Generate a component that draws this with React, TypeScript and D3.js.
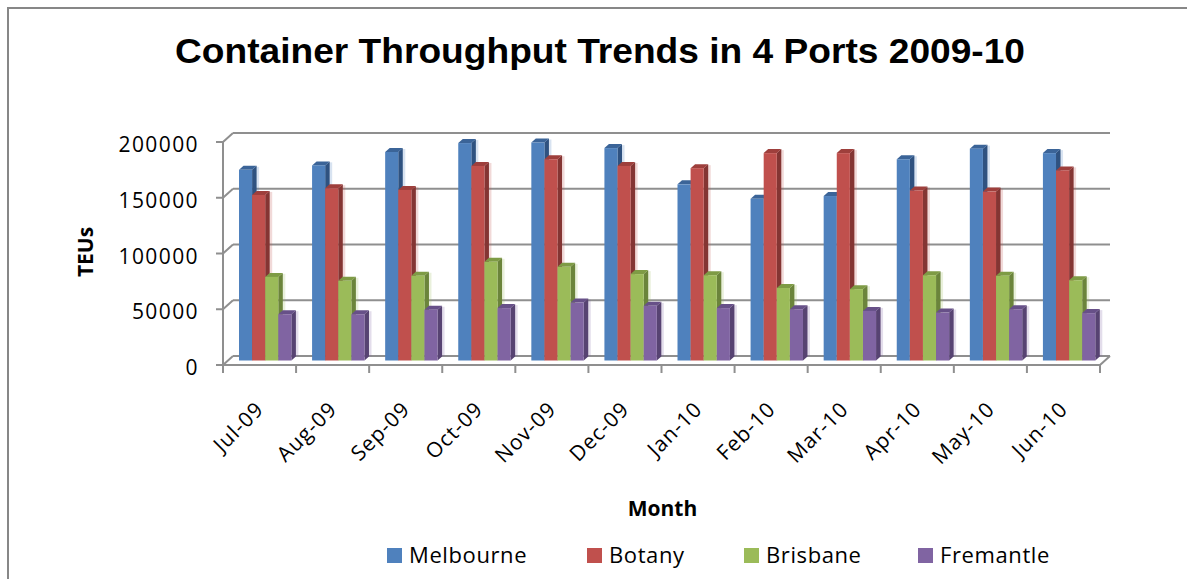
import { useEffect, useRef } from "react"
import * as d3 from "d3"

const months = ["Jul-09", "Aug-09", "Sep-09", "Oct-09", "Nov-09", "Dec-09", "Jan-10", "Feb-10", "Mar-10", "Apr-10", "May-10", "Jun-10"]
const melbourne = [171000, 175000, 187000, 195000, 195500, 190500, 158000, 145000, 147500, 180500, 190000, 186000]
const botany = [148500, 154500, 153000, 174500, 180500, 174500, 172500, 186000, 186000, 152500, 151500, 170500]
const brisbane = [75000, 71500, 76000, 88500, 84000, 77500, 76500, 65000, 64000, 76500, 76000, 72000]
const fremantle = [41500, 41500, 45500, 47000, 52000, 49000, 47000, 46000, 44500, 43000, 46000, 42500]
const yTicks = [0, 50000, 100000, 150000, 200000]

const series = [
    { name: "Melbourne", values: melbourne, color: "#4F81BD", side: "#2F5280", top: "#3B6498" },
    { name: "Botany", values: botany, color: "#C0504D", side: "#843533", top: "#9E3F3C" },
    { name: "Brisbane", values: brisbane, color: "#9BBB59", side: "#6B843B", top: "#7E9B45" },
    { name: "Fremantle", values: fremantle, color: "#8064A2", side: "#574372", top: "#675088" },
]

export default function App() {
    const svgRef = useRef(null)
    const width = 1187, height = 579

    useEffect(() => {
        const svg = d3.select(svgRef.current)
        svg.selectAll("*").remove()

        // outer frame (runs off the right and bottom edges)
        svg.append("rect")
            .attr("x", 8).attr("y", 8)
            .attr("width", 1300).attr("height", 700)
            .attr("fill", "white")
            .attr("stroke", "#878787").attr("stroke-width", 2)

        // title
        svg.append("text")
            .attr("x", 175).attr("y", 63)
            .attr("textLength", 850)
            .attr("lengthAdjust", "spacingAndGlyphs")
            .style("font-family", "'Liberation Sans', Arial, sans-serif")
            .style("font-weight", "bold")
            .style("font-size", "35px")
            .text("Container Throughput Trends in 4 Ports 2009-10")

        const left = 223, right = 1100, floor = 365
        const depth = { dx: 10, dy: -9 }

        const x = d3.scaleBand().domain(months).range([left, right]).padding(0)
        const y = d3.scaleLinear().domain([0, 200000]).range([floor, 142])
        // bars stand half way into the floor
        const yBar = d3.scaleLinear().domain([0, 200000]).range([floor + depth.dy / 2, 142 + depth.dy / 2])

        const gridColor = "#8f8f8f"
        const grid = svg.append("g")
        yTicks.forEach(v => {
            // side wall
            grid.append("line")
                .attr("x1", left).attr("y1", y(v))
                .attr("x2", left + depth.dx).attr("y2", y(v) + depth.dy)
                .attr("stroke", gridColor).attr("stroke-width", 2)
            // back wall
            grid.append("line")
                .attr("x1", left + depth.dx).attr("y1", y(v) + depth.dy)
                .attr("x2", right + depth.dx).attr("y2", y(v) + depth.dy)
                .attr("stroke", gridColor).attr("stroke-width", 2)
        })
        // floor right edge
        grid.append("line")
            .attr("x1", right).attr("y1", floor)
            .attr("x2", right + depth.dx).attr("y2", floor + depth.dy)
            .attr("stroke", gridColor).attr("stroke-width", 2)

        // value axis
        grid.append("line")
            .attr("x1", left).attr("y1", y(200000))
            .attr("x2", left).attr("y2", floor)
            .attr("stroke", gridColor).attr("stroke-width", 2)
        yTicks.forEach(v => {
            grid.append("line")
                .attr("x1", left - 7).attr("y1", y(v))
                .attr("x2", left).attr("y2", y(v))
                .attr("stroke", gridColor).attr("stroke-width", 2)
            svg.append("text")
                .attr("x", 199).attr("y", y(v) + 10)
                .attr("text-anchor", "end")
                .style("font-family", "'Open Sans', sans-serif")
                .style("font-size", "21px")
                .style("letter-spacing", "1.4px")
                .text(v)
        })

        // category axis
        grid.append("line")
            .attr("x1", left).attr("y1", floor)
            .attr("x2", right).attr("y2", floor)
            .attr("stroke", gridColor).attr("stroke-width", 2)
        months.concat(["end"]).forEach((m, i) => {
            const tx = left + i * x.bandwidth()
            grid.append("line")
                .attr("x1", tx).attr("y1", floor)
                .attr("x2", tx).attr("y2", floor + 8)
                .attr("stroke", gridColor).attr("stroke-width", 2)
        })

        // bars
        const barW = 13.1, sdx = 4.5, sdy = -4
        const base = yBar(0)
        const bars = svg.append("g")
        months.forEach((m, i) => {
            series.forEach((s, j) => {
                const bx = x(m) + 16 + j * barW
                const top = yBar(s.values[i])
                // soft halo
                bars.append("rect")
                    .attr("x", bx + barW).attr("y", top + sdy + 1)
                    .attr("width", sdx + 2.5).attr("height", base - top - 1)
                    .attr("fill", s.color).attr("opacity", 0.22)
                bars.append("polygon")
                    .attr("points", [[bx + barW, top], [bx + barW + sdx, top + sdy], [bx + barW + sdx, base + sdy], [bx + barW, base]].join(" "))
                    .attr("fill", s.side)
                bars.append("polygon")
                    .attr("points", [[bx, top], [bx + sdx, top + sdy], [bx + barW + sdx, top + sdy], [bx + barW, top]].join(" "))
                    .attr("fill", s.top)
                bars.append("rect")
                    .attr("x", bx).attr("y", top)
                    .attr("width", barW).attr("height", base - top)
                    .attr("fill", s.color)
            })
        })

        // month labels
        months.forEach(m => {
            const cx = x(m) + x.bandwidth() / 2 + 5.5
            svg.append("text")
                .attr("transform", `translate(${cx},410.5) rotate(-45)`)
                .attr("text-anchor", "end")
                .style("font-family", "'Open Sans', sans-serif")
                .style("font-size", "21px")
                .style("letter-spacing", "1px")
                .text(m)
        })

        // axis titles
        svg.append("text")
            .attr("transform", "translate(93,252) rotate(-90)")
            .attr("text-anchor", "middle")
            .style("font-family", "'Open Sans', sans-serif")
            .style("font-weight", "bold")
            .style("font-size", "21px")
            .text("TEUs")
        svg.append("text")
            .attr("x", 662.5).attr("y", 516)
            .attr("text-anchor", "middle")
            .style("font-family", "'Open Sans', sans-serif")
            .style("font-weight", "bold")
            .style("font-size", "21px")
            .text("Month")

        // legend
        const legendX = [387, 587, 744, 918]
        series.forEach((s, j) => {
            svg.append("rect")
                .attr("x", legendX[j]).attr("y", 548)
                .attr("width", 15).attr("height", 15)
                .attr("fill", s.color)
            svg.append("text")
                .attr("x", legendX[j] + 22).attr("y", 563)
                .style("font-family", "'Open Sans', sans-serif")
                .style("font-size", "22px")
                .style("letter-spacing", "0.6px")
                .text(s.name)
        })
    }, [])

    return (
        <svg ref={svgRef} width={width} height={height}
            style={{ position: "absolute", left: 0, top: 0, background: "white" }} />
    )
}
